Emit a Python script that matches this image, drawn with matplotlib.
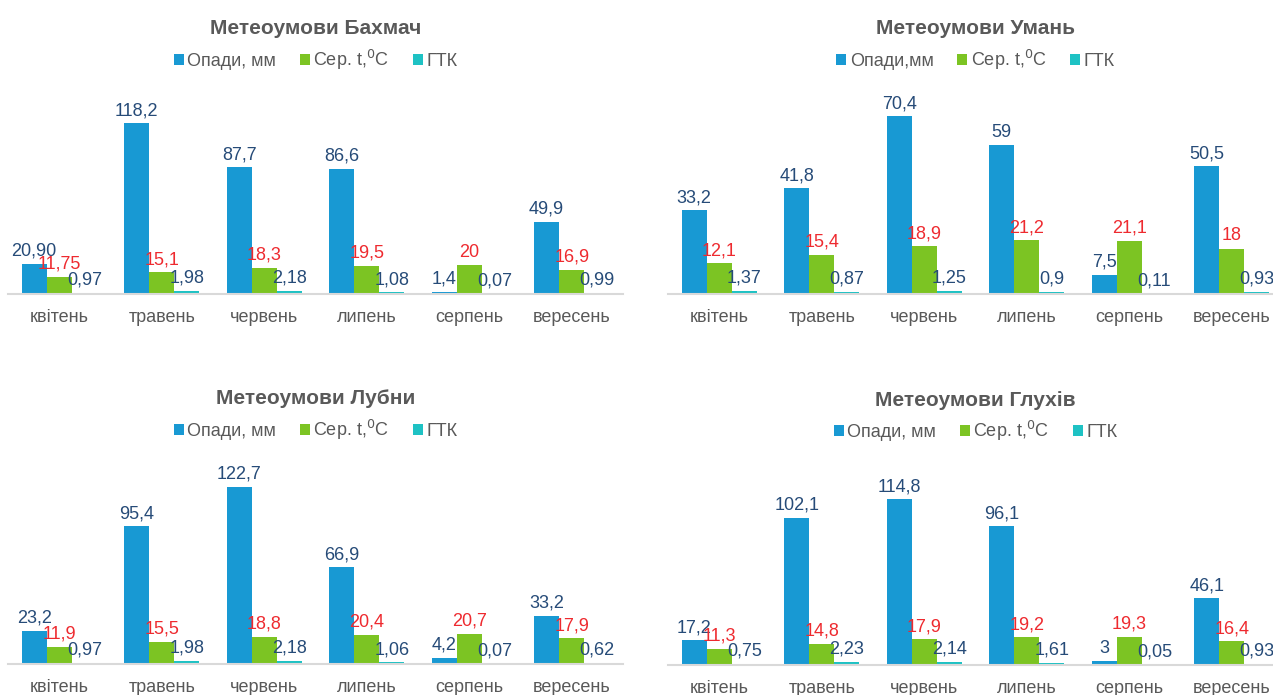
import matplotlib
matplotlib.use("Agg")
import matplotlib.pyplot as plt
import numpy as np

plt.rcParams["font.family"] = ["Liberation Sans", "DejaVu Sans"]

# ==== Дані ====
months = ["квітень", "травень", "червень", "липень", "серпень", "вересень"]

bakhmach_rain = ["20,90", "118,2", "87,7", "86,6", "1,4", "49,9"]
bakhmach_temp = ["11,75", "15,1", "18,3", "19,5", "20", "16,9"]
bakhmach_gtk = ["0,97", "1,98", "2,18", "1,08", "0,07", "0,99"]

uman_rain = ["33,2", "41,8", "70,4", "59", "7,5", "50,5"]
uman_temp = ["12,1", "15,4", "18,9", "21,2", "21,1", "18"]
uman_gtk = ["1,37", "0,87", "1,25", "0,9", "0,11", "0,93"]

lubny_rain = ["23,2", "95,4", "122,7", "66,9", "4,2", "33,2"]
lubny_temp = ["11,9", "15,5", "18,8", "20,4", "20,7", "17,9"]
lubny_gtk = ["0,97", "1,98", "2,18", "1,06", "0,07", "0,62"]

glukhiv_rain = ["17,2", "102,1", "114,8", "96,1", "3", "46,1"]
glukhiv_temp = ["11,3", "14,8", "17,9", "19,2", "19,3", "16,4"]
glukhiv_gtk = ["0,75", "2,23", "2,14", "1,61", "0,05", "0,93"]

# ==== Стиль ====
C_RAIN = "#1899D3"
C_TEMP = "#7CC423"
C_GTK = "#1EC2C4"
C_LBL_DARK = "#264B78"
C_LBL_RED = "#EE2A2F"
C_GRAY = "#595959"

W, H = 1273, 695
fig = plt.figure(figsize=(W / 100, H / 100), dpi=100)


def to_num(vals):
    return [float(v.replace(",", ".")) for v in vals]


def draw_panel(rect_px, title, rain, temp, gtk, ymax, rain_name):
    x0, y_top, width, height = rect_px
    ax = fig.add_axes([x0 / W, 1 - (y_top + height) / H, width / W, height / H])
    x = np.arange(len(months))
    bw = 0.245
    series = [
        (rain, C_RAIN, C_LBL_DARK, rain_name, -bw),
        (temp, C_TEMP, C_LBL_RED, "Сер. t,$^{0}$C", 0),
        (gtk, C_GTK, C_LBL_DARK, "ГТК", bw),
    ]
    for labels, color, lcol, name, off in series:
        vals = to_num(labels)
        bars = ax.bar(x + off, vals, bw, color=color, label=name, zorder=2)
        for b, txt in zip(bars, labels):
            ax.annotate(txt, (b.get_x() + b.get_width() / 2, b.get_height()),
                        xytext=(0, 3), textcoords="offset points",
                        ha="center", va="bottom", fontsize=13, color=lcol,
                        annotation_clip=False, zorder=3)
    ax.set_xlim(-0.5, len(months) - 0.5)
    ax.set_ylim(0, ymax)
    ax.set_xticks(x)
    ax.set_xticklabels(months, fontsize=13, color=C_GRAY)
    ax.tick_params(axis="x", length=0, pad=11)
    ax.set_yticks([])
    for s in ["top", "left", "right"]:
        ax.spines[s].set_visible(False)
    ax.spines["bottom"].set_color("#D9D9D9")
    ax.spines["bottom"].set_linewidth(1.5)
    ax.patch.set_alpha(0)

    ax.text(0.5, 1 + 63 / height, title, transform=ax.transAxes, ha="center",
            va="center", fontsize=15, fontweight="bold", color=C_GRAY)
    leg = ax.legend(loc="center", bbox_to_anchor=(0.5, 1 + 32 / height), ncol=3,
                    frameon=False, fontsize=13, handlelength=0.55, handleheight=0.55,
                    handletextpad=0.2, columnspacing=1.3, borderaxespad=0)
    for t in leg.get_texts():
        t.set_color(C_GRAY)
    return ax


draw_panel((8, 92, 615, 202), "Метеоумови Бахмач",
           bakhmach_rain, bakhmach_temp, bakhmach_gtk, 140, "Опади, мм")
draw_panel((668, 92, 615, 202), "Метеоумови Умань",
           uman_rain, uman_temp, uman_gtk, 80, "Опади,мм")
draw_panel((8, 462, 615, 202), "Метеоумови Лубни",
           lubny_rain, lubny_temp, lubny_gtk, 140, "Опади, мм")
draw_panel((668, 463, 615, 202), "Метеоумови Глухів",
           glukhiv_rain, glukhiv_temp, glukhiv_gtk, 140, "Опади, мм")

fig.savefig("out.png", dpi=100, facecolor="white")
